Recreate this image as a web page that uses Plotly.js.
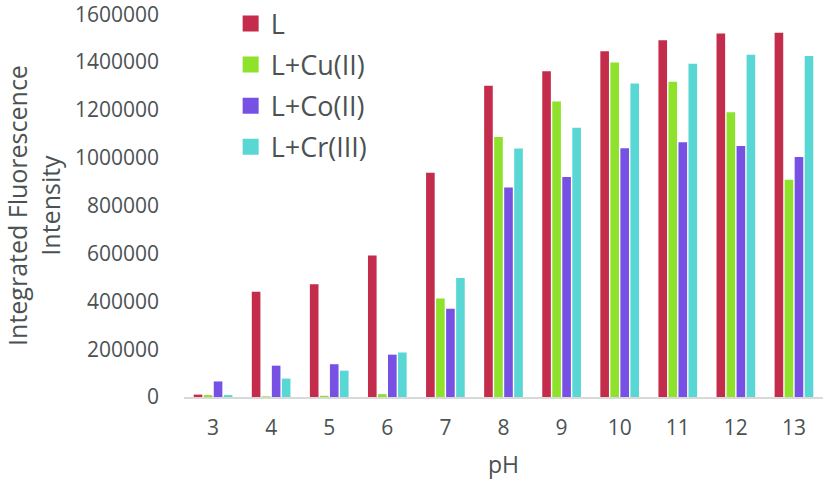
<!DOCTYPE html>
<html>
<head>
<meta charset="utf-8">
<script src="https://cdn.plot.ly/plotly-3.0.1.min.js"></script>
<style>html,body{margin:0;padding:0;background:#fff}#chart{width:826px;height:480px}</style>
</head>
<body>
<div id="chart"></div>
<script>
var ph = ['3','4','5','6','7','8','9','10','11','12','13'];
var valL  = [10000, 440000, 471000, 591000, 937000, 1301000, 1362000, 1445000, 1491000, 1520000, 1523000];
var valCu = [8000, 3000, 5000, 12000, 412000, 1087000, 1235000, 1398000, 1318000, 1190000, 908000];
var valCo = [65000, 131000, 137000, 177000, 369000, 876000, 920000, 1040000, 1065000, 1049000, 1003000];
var valCr = [8000, 77000, 110000, 186000, 497000, 1039000, 1126000, 1310000, 1393000, 1431000, 1425000];
var names = ['L', 'L+Cu(II)', 'L+Co(II)', 'L+Cr(III)'];
var colors = ['#c32d4b', '#8ee22b', '#7651e4', '#58d7d5'];
var series = [valL, valCu, valCo, valCr];

var data = series.map(function(v, i) {
  return {
    x: ph, y: v, name: names[i], type: 'bar',
    showlegend: false,
    marker: {color: colors[i], line: {width: 0}},
    hoverinfo: 'x+y'
  };
});
// legend entries with larger square swatches
names.forEach(function(n, i) {
  data.push({
    x: [null], y: [null], name: n, type: 'scatter', mode: 'markers',
    legendgroup: 'g' + i,
    marker: {symbol: 'square', size: 16, color: colors[i]}
  });
});

var txt = '#4b5253';
var fam = '"Open Sans", sans-serif';
var layout = {
  width: 826, height: 480,
  paper_bgcolor: '#fff', plot_bgcolor: '#fff',
  font: {family: fam, size: 21, color: txt},
  margin: {l: 184, r: 3, t: 14, b: 83, autoexpand: false},
  barmode: 'group', bargap: 0.31, bargroupgap: 0.14,
  showlegend: true,
  legend: {x: 0.073, y: 1.038, xanchor: 'left', yanchor: 'top',
           traceorder: 'grouped', tracegroupgap: 3,
           bgcolor: 'rgba(0,0,0,0)', font: {family: fam, size: 27, color: txt}},
  xaxis: {type: 'category', showgrid: false, zeroline: false, automargin: false,
          showline: true, linecolor: '#d9d9d9', linewidth: 2,
          ticks: '', ticklabelstandoff: 11,
          title: {text: 'pH', standoff: 18, font: {family: fam, size: 23, color: txt}}},
  yaxis: {range: [0, 1601000], dtick: 200000, showgrid: false, zeroline: false, automargin: false,
          showline: false, ticks: '', tickformat: 'd', ticklabelstandoff: 24,
          ticklabeloverflow: 'allow',
          title: {text: 'Integrated Fluorescence<br>Intensity', standoff: 21,
                  font: {family: fam, size: 25, color: txt}}}
};

Plotly.newPlot('chart', data, layout, {displayModeBar: false, staticPlot: true});
</script>
</body>
</html>
